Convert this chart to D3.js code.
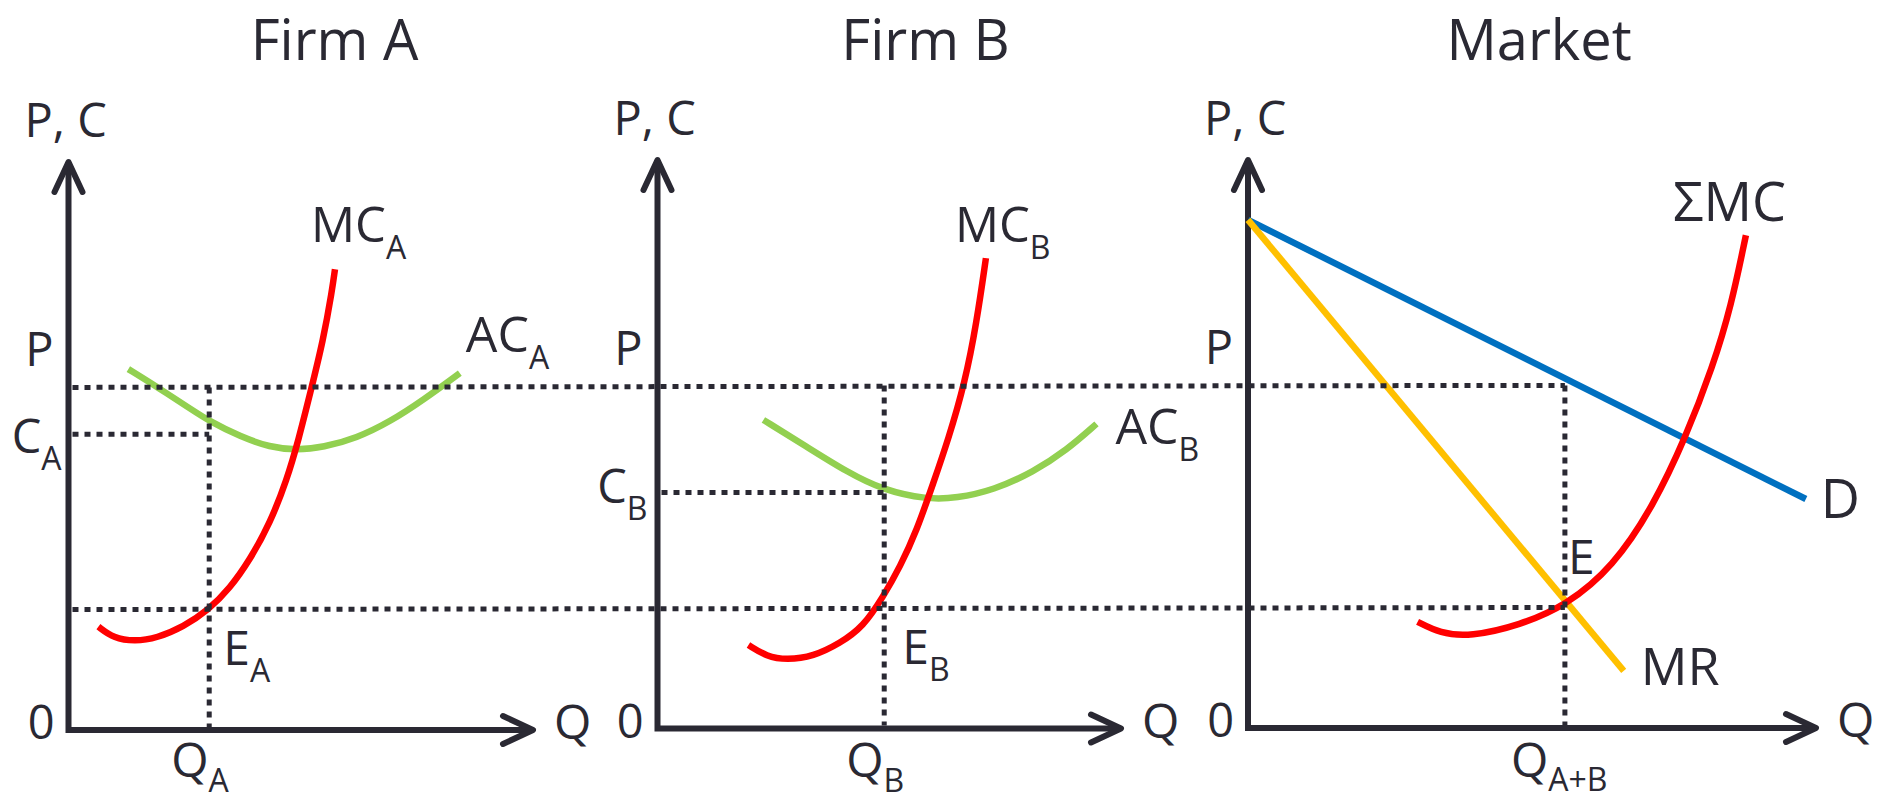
<!DOCTYPE html>
<html>
<head>
<meta charset="utf-8">
<title>Cartel: Firm A, Firm B and Market</title>
<script src="https://cdn.jsdelivr.net/npm/d3@7"></script>
<style>
  html, body { margin: 0; padding: 0; background: #ffffff; }
  svg { display: block; }
</style>
</head>
<body>
<svg id="chart" width="1886" height="802"></svg>
<script>
// ---- Values (Q on the horizontal axis, P / C on the vertical axis, 0–10 units) ----
const titles = ["Firm A", "Firm B", "Market"];

const priceP  = 6.0;    // cartel price P
const mcLevel = 2.11;   // marginal cost where ΣMC = MR
const qA  = 3.01;       // output of firm A
const qB  = 4.86;       // output of firm B
const qAB = 5.55;       // total output Q(A+B)
const costA = 5.18;     // average cost of firm A at qA
const costB = 4.13;     // average cost of firm B at qB

const mcA = [[0.64,1.81],[0.96,1.61],[1.42,1.55],[1.89,1.61],[2.46,1.81],[2.99,2.10],
             [3.45,2.48],[3.88,2.98],[4.31,3.62],[4.67,4.38],[4.92,5.08],[5.17,5.90],
             [5.45,6.83],[5.64,7.71],[5.70,8.07]];
const acA = [[1.28,6.32],[1.89,6.01],[2.60,5.63],[3.03,5.40],[3.67,5.14],[4.31,4.95],
             [4.88,4.90],[5.45,4.95],[6.16,5.11],[6.88,5.40],[7.59,5.78],[8.37,6.25]];

const mcB = [[1.95,1.46],[2.34,1.26],[2.77,1.20],[3.34,1.26],[3.91,1.49],[4.41,1.78],
             [4.84,2.31],[5.20,2.83],[5.56,3.47],[5.91,4.29],[6.23,5.05],[6.59,6.05],
             [6.84,7.10],[7.04,8.23]];
const acB = [[2.27,5.40],[3.20,4.93],[4.06,4.49],[4.84,4.17],[5.77,4.01],[6.41,4.03],
             [7.20,4.17],[8.06,4.49],[8.77,4.87],[9.41,5.33]];

const demand = [[0,8.90],[9.77,4.01]];
const marginalRevenue = [[0,8.90],[6.58,1.00]];
const sumMC = [[2.97,1.86],[3.36,1.66],[3.89,1.60],[4.76,1.80],[5.58,2.15],[6.39,2.82],
               [7.09,3.87],[7.67,5.10],[8.14,6.33],[8.46,7.38],[8.72,8.63]];

// ---- Layout and style ----
const ink = "#2a2933";
const colors = { mc: "#ff0000", ac: "#92d050", demand: "#0070c0", mr: "#ffc000" };
const fontFamily = '"Open Sans", "Noto Sans", "DejaVu Sans", sans-serif';

const layout = [
  { ox: 68.5,  oy: 730,   w: 467.5, h: 571,   titleX: 334.5 },
  { ox: 657.5, oy: 728.5, w: 466.5, h: 571.5, titleX: 925.5 },
  { ox: 1248,  oy: 728,   w: 571,   h: 571,   titleX: 1539 }
];

const scales = layout.map(L => ({
  x: d3.scaleLinear().domain([0, 10]).range([L.ox, L.ox + L.w]),
  y: d3.scaleLinear().domain([0, 10]).range([L.oy, L.oy - L.h])
}));
const [sA, sB, sM] = scales;

const svg = d3.select("#chart");
const gAxes = svg.append("g");
const gCurves = svg.append("g");
const gGuides = svg.append("g");
const gText = svg.append("g").attr("font-family", fontFamily).attr("fill", ink);

// ---- Axes with open arrowheads ----
scales.forEach(s => {
  const x0 = s.x(0), y0 = s.y(0), xTip = s.x(10) - 3, yTip = s.y(10) + 3;
  gAxes.append("path")
    .attr("d", `M${x0},${yTip} L${x0},${y0} L${xTip},${y0}`)
    .attr("fill", "none").attr("stroke", ink).attr("stroke-width", 6)
    .attr("stroke-linejoin", "miter");
  gAxes.append("path")
    .attr("d", `M${x0 - 14},${yTip + 30} L${x0},${yTip} L${x0 + 14},${yTip + 30}`)
    .attr("fill", "none").attr("stroke", ink).attr("stroke-width", 6)
    .attr("stroke-linecap", "round").attr("stroke-linejoin", "round");
  gAxes.append("path")
    .attr("d", `M${xTip - 30},${y0 - 14} L${xTip},${y0} L${xTip - 30},${y0 + 14}`)
    .attr("fill", "none").attr("stroke", ink).attr("stroke-width", 6)
    .attr("stroke-linecap", "round").attr("stroke-linejoin", "round");
});

// ---- Curves ----
function drawCurve(s, data, color, smooth) {
  const line = d3.line().x(d => s.x(d[0])).y(d => s.y(d[1]));
  if (smooth) line.curve(d3.curveBasis);
  gCurves.append("path")
    .datum(data)
    .attr("d", line)
    .attr("fill", "none")
    .attr("stroke", color)
    .attr("stroke-width", 6.5)
    .attr("stroke-linecap", "butt")
    .attr("stroke-linejoin", "round");
}
drawCurve(sA, acA, colors.ac, true);
drawCurve(sA, mcA, colors.mc, true);
drawCurve(sB, acB, colors.ac, true);
drawCurve(sB, mcB, colors.mc, true);
drawCurve(sM, demand, colors.demand, false);
drawCurve(sM, marginalRevenue, colors.mr, false);
drawCurve(sM, sumMC, colors.mc, true);

// ---- Dotted guide lines ----
function guide(x1, y1, x2, y2) {
  gGuides.append("line")
    .attr("x1", x1).attr("y1", y1).attr("x2", x2).attr("y2", y2)
    .attr("stroke", ink).attr("stroke-width", 5)
    .attr("stroke-dasharray", "6 6");
}
// price P and MC = MR level, running through all three panels
guide(sA.x(0) + 4, sA.y(priceP),  sM.x(qAB), sM.y(priceP));
guide(sA.x(0) + 4, sA.y(mcLevel), sM.x(qAB), sM.y(mcLevel));
// average cost levels
guide(sA.x(0) + 4, sA.y(costA), sA.x(qA), sA.y(costA));
guide(sB.x(0) + 4, sB.y(costB), sB.x(qB), sB.y(costB));
// output levels
guide(sA.x(qA),  sA.y(priceP), sA.x(qA),  sA.y(0) - 3);
guide(sB.x(qB),  sB.y(priceP), sB.x(qB),  sB.y(0) - 3);
guide(sM.x(qAB), sM.y(priceP), sM.x(qAB), sM.y(0) - 3);

// ---- Text ----
function label(x, y, main, sub, opts = {}) {
  const size = opts.size || 47;
  const t = gText.append("text")
    .attr("x", x).attr("y", y)
    .attr("font-size", size)
    .attr("text-anchor", opts.anchor || "start");
  t.append("tspan").text(main);
  if (sub) {
    t.append("tspan").attr("dy", opts.subDy || 17)
      .attr("font-size", opts.subSize || 32).text(sub);
  }
  return t;
}

// panel titles
layout.forEach((L, i) => {
  label(L.titleX, 60, titles[i], null, { size: 56, anchor: "middle" });
});

// axis names and origins
scales.forEach((s, i) => {
  const L = layout[i];
  label(L.ox - 44, s.y(10) - 22, "P, C");
  label(L.ox - 14, L.oy + 9, "0", null, { anchor: "end" });
  label(s.x(10) + 18, L.oy + 9, "Q", null, { size: 48 });
  label(L.ox - 15, s.y(priceP) - 21, "P", null, { anchor: "end" });
});

// output labels under the horizontal axes
const qLabelDrop = 47;
label(sA.x(qA) - 38,  layout[0].oy + qLabelDrop,       "Q", "A",   { size: 48, subDy: 15 });
label(sB.x(qB) - 38,  layout[1].oy + qLabelDrop + 1,   "Q", "B",   { size: 48, subDy: 15 });
label(sM.x(qAB) - 54, layout[2].oy + qLabelDrop + 2,   "Q", "A+B", { size: 48, subDy: 14 });

// Firm A
label(sA.x(0) - 7, sA.y(costA) + 19, "C", "A", { anchor: "end" });
label(sA.x(qA) + 14, sA.y(mcLevel) + 55, "E", "A", { size: 48 });
label(sA.x(mcA[mcA.length - 1][0]) - 24, sA.y(mcA[mcA.length - 1][1]) - 27, "MC", "A", { size: 49 });
label(sA.x(acA[acA.length - 1][0]) + 6, sA.y(acA[acA.length - 1][1]) - 21, "AC", "A", { size: 50 });

// Firm B
label(sB.x(0) - 10, sB.y(costB) + 11, "C", "B", { anchor: "end" });
label(sB.x(qB) + 18, sB.y(mcLevel) + 56, "E", "B", { size: 48 });
label(sB.x(mcB[mcB.length - 1][0]) - 31, sB.y(mcB[mcB.length - 1][1]) - 16, "MC", "B", { size: 49 });
label(sB.x(acB[acB.length - 1][0]) + 19, sB.y(acB[acB.length - 1][1]) + 20, "AC", "B", { size: 50 });

// Market
label(sM.x(qAB) + 3, sM.y(mcLevel) - 34, "E", null, { size: 48 });
label(sM.x(sumMC[sumMC.length - 1][0]) - 73, sM.y(sumMC[sumMC.length - 1][1]) - 14, "ΣMC", null, { size: 54 });
label(sM.x(demand[1][0]) + 15, sM.y(demand[1][1]) + 19, "D", null, { size: 54 });
label(sM.x(marginalRevenue[1][0]) + 17, sM.y(marginalRevenue[1][1]) + 14, "MR", null, { size: 52 });
</script>
</body>
</html>
